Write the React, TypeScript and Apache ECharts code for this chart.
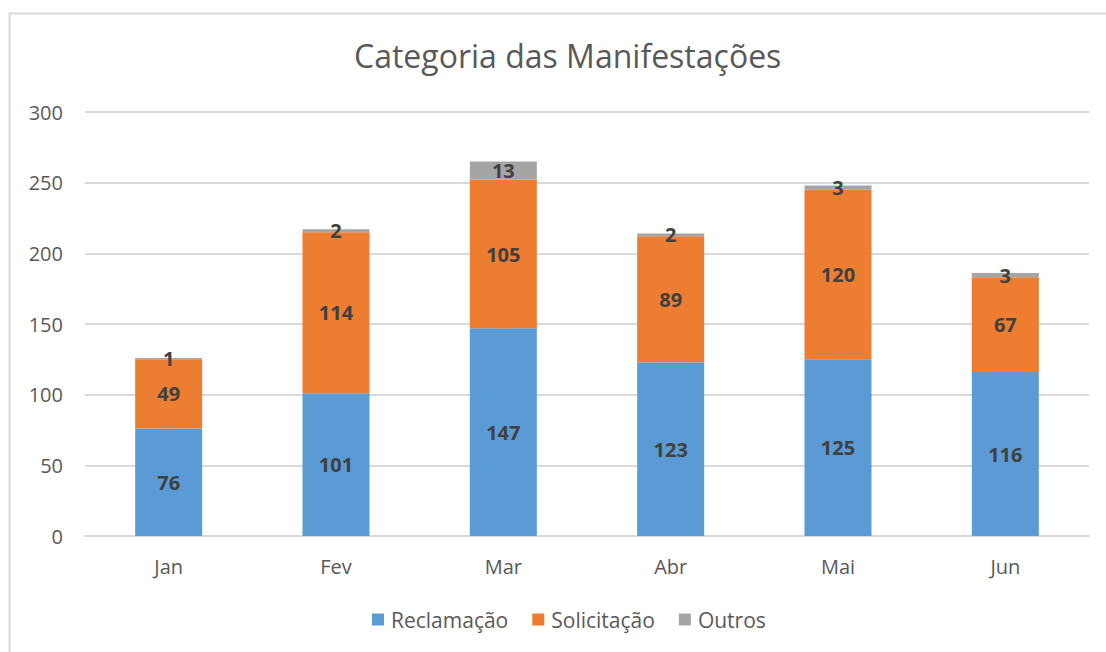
import React, { useEffect, useRef } from "react";
import * as echarts from "echarts";

const categories = ["Jan", "Fev", "Mar", "Abr", "Mai", "Jun"];
const reclamacao = [76, 101, 147, 123, 125, 116];
const solicitacao = [49, 114, 105, 89, 120, 67];
const outros = [1, 2, 13, 2, 3, 3];
const seriesNames = ["Reclamação", "Solicitação", "Outros"];
const colors = ["#5B9BD5", "#ED7D31", "#A5A5A5"];

const FONT = "'Open Sans', 'Noto Sans', sans-serif";

export default function App() {
  const ref = useRef<HTMLDivElement>(null);
  useEffect(() => {
    document.body.style.margin = "0";
    const chart = echarts.init(ref.current!, null, { renderer: "svg" });
    const label = {
      show: true,
      position: "inside",
      color: "#404040",
      fontWeight: "bold",
      fontSize: 20,
      fontFamily: FONT,
    };
    const datas = [reclamacao, solicitacao, outros];
    chart.setOption({
      animation: false,
      backgroundColor: "#ffffff",
      title: {
        text: "Categoria das Manifestações",
        left: 349,
        top: 34,
        textStyle: { fontSize: 32, fontWeight: "normal", color: "#595959", fontFamily: FONT },
      },
      graphic: [
        {
          type: "rect",
          shape: { x: 9.5, y: 13.5, width: 1200, height: 700 },
          style: { fill: "none", stroke: "#D9D9D9", lineWidth: 2 },
          silent: true,
        },
      ],
      legend: {
        bottom: 17,
        left: 367,
        itemWidth: 12,
        itemHeight: 12,
        itemGap: 24,
        icon: "rect",
        textStyle: { fontSize: 21, color: "#595959", fontFamily: FONT, padding: [0, 0, 0, 2] },
        data: seriesNames,
      },
      grid: { left: 85, right: 17, top: 112, bottom: 116, containLabel: false },
      xAxis: {
        type: "category",
        data: categories,
        axisLine: { lineStyle: { color: "#D9D9D9", width: 2 } },
        axisTick: { show: false },
        axisLabel: { fontSize: 20, color: "#595959", fontFamily: FONT, margin: 20 },
      },
      yAxis: {
        type: "value",
        min: 0,
        max: 300,
        interval: 50,
        axisLine: { show: false },
        axisTick: { show: false },
        splitLine: { lineStyle: { color: "#D9D9D9", width: 2 } },
        axisLabel: { fontSize: 20, color: "#595959", fontFamily: FONT, margin: 22 },
      },
      series: seriesNames.map((name, i) => ({
        name,
        type: "bar",
        stack: "total",
        barWidth: 67,
        itemStyle: { color: colors[i] },
        label,
        data: datas[i],
      })),
    });
    return () => chart.dispose();
  }, []);
  return <div ref={ref} style={{ position: "absolute", left: 0, top: 0, width: 1106, height: 652 }} />;
}
